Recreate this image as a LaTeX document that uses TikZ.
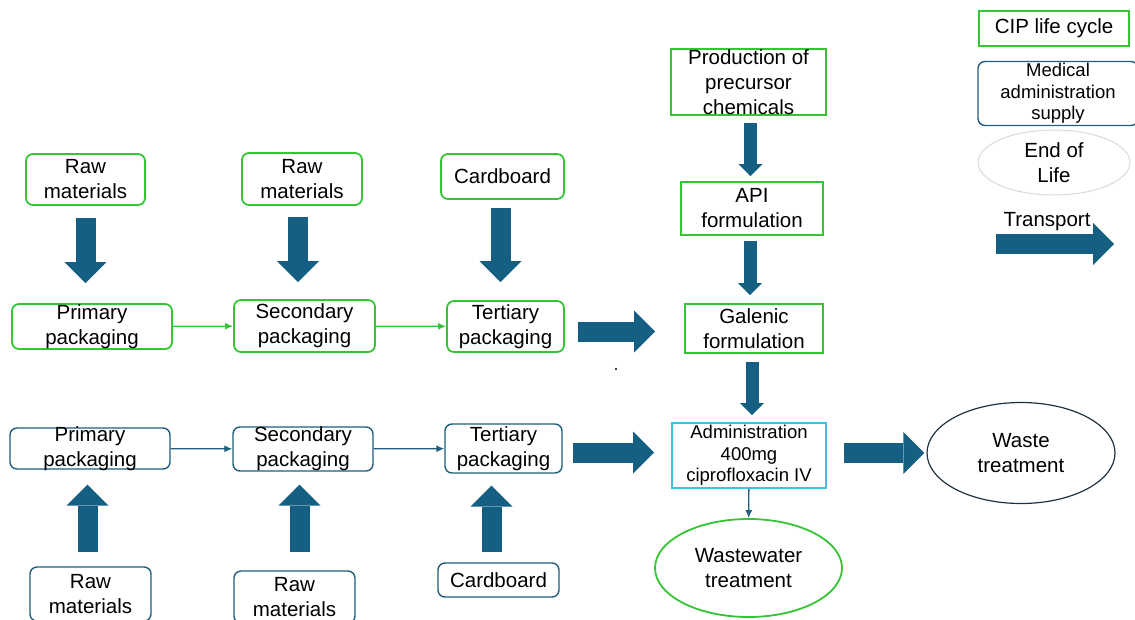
\documentclass[tikz,border=0pt]{standalone}
\usepackage{fontspec}
\setmainfont{Liberation Sans}
\usetikzlibrary{arrows.meta,positioning,shapes.geometric}
\definecolor{cipgreen}{RGB}{52,196,52}
\definecolor{supplyblue}{RGB}{31,94,124}
\definecolor{flowblue}{RGB}{21,96,130}
\definecolor{admincyan}{RGB}{64,192,232}
\definecolor{eolgray}{RGB}{217,217,217}
\definecolor{wasteline}{RGB}{30,50,64}

\begin{document}
\begin{tikzpicture}[x=1pt, y=-1pt, every node/.style={font=\fontsize{20.5}{25}\selectfont, align=center, inner xsep=2pt, inner ysep=-2pt}]
\tikzset{cipbox/.style={draw=cipgreen, line width=1.8pt, rounded corners=7pt}}
\tikzset{ciprect/.style={draw=cipgreen, line width=1.8pt}}
\tikzset{supplybox/.style={draw=supplyblue, line width=1.4pt, rounded corners=7pt}}
\tikzset{flow/.style={draw=flowblue, line width=20pt, -{Triangle[length=21pt, width=42pt, line width=0pt]}}}
\tikzset{flowmid/.style={draw=flowblue, line width=13pt, -{Triangle[length=12pt, width=24pt, line width=0pt]}}}
\tikzset{link/.style={line width=1.3pt, -{Latex[length=8pt, width=7pt]}}}
\tikzset{smalltext/.style={font=\fontsize{18.5}{21.5}\selectfont}}
\useasboundingbox (0,0) rectangle (1135,619);
% CIP life cycle row
\node[cipbox, minimum width=119pt, minimum height=51pt] (raw1) at (85.5,179.5) {Raw\\materials};
\node[cipbox, minimum width=120pt, minimum height=52pt] (raw2) at (302,179) {Raw\\materials};
\node[cipbox, minimum width=123pt, minimum height=45pt] (card1) at (502.5,176.5) {Cardboard};
\node[cipbox, minimum width=160pt, minimum height=45pt] (prim1) at (92,326.5) {Primary\\packaging};
\node[cipbox, minimum width=141pt, minimum height=52pt] (sec1) at (304.5,326) {Secondary\\packaging};
\node[cipbox, minimum width=117pt, minimum height=51pt] (ter1) at (505.5,326.5) {Tertiary\\packaging};
% active ingredient
\node[ciprect, minimum width=155pt, minimum height=66pt, inner ysep=-1pt] (prod) at (748.5,82) {Production of\\precursor\\chemicals};
\node[ciprect, minimum width=142pt, minimum height=53pt] (api) at (752,208.5) {API\\formulation};
\node[ciprect, minimum width=138pt, minimum height=49pt] (gal) at (754,328.5) {Galenic\\formulation};
\node[draw=admincyan, line width=1.8pt, smalltext, minimum width=154pt, minimum height=65pt] (admin) at (749,455.5) {Administration\\400mg\\ciprofloxacin IV};
\node[ellipse, draw=cipgreen, line width=1.8pt, minimum width=187pt, minimum height=98pt] (wwater) at (748.5,568) {Wastewater\\treatment};
\node[ellipse, draw=wasteline, line width=1.2pt, minimum width=188pt, minimum height=101pt] (waste) at (1021,453) {Waste\\treatment};
% medical administration supply row
\node[supplybox, minimum width=160pt, minimum height=41pt] (prim2) at (90,448.5) {Primary\\packaging};
\node[supplybox, minimum width=140pt, minimum height=44pt] (sec2) at (303,449) {Secondary\\packaging};
\node[supplybox, minimum width=117pt, minimum height=49pt] (ter2) at (503.5,448.5) {Tertiary\\packaging};
\node[supplybox, minimum width=121pt, minimum height=54pt] (raw3) at (90.5,594) {Raw\\materials};
\node[supplybox, minimum width=121pt, minimum height=52pt] (raw4) at (294.5,597) {Raw\\materials};
\node[supplybox, minimum width=121pt, minimum height=34pt] (card2) at (498.5,580) {Cardboard};
% legend
\node[ciprect, minimum width=150pt, minimum height=35pt] (legcip) at (1054,28.5) {CIP life cycle};
\node[supplybox, smalltext, minimum width=160pt, minimum height=64pt] (legsupply) at (1058,93.5) {Medical\\administration\\supply};
\node[ellipse, draw=eolgray, line width=1pt, minimum width=152pt, minimum height=65pt] (legeol) at (1054,162.5) {End of\\Life};
\node (legtransport) at (1047,222) {Transport};
\coordinate (tr0) at (996,244);
\coordinate (tr1) at (1114,244);
% transport arrows
\draw[flow, shorten <=12pt, shorten >=20pt] (raw1.south) -- (raw1.south |- prim1.north);
\draw[flow, shorten <=11pt, shorten >=17pt] ([xshift=-4pt]raw2.south) -- ([xshift=-4pt]raw2.south |- sec1.north);
\draw[flow, shorten <=8pt, shorten >=18pt] ([xshift=-2pt]card1.south) -- ([xshift=-2pt]card1.south |- ter1.north);
\draw[flow, shorten <=13pt, shorten >=29pt] ([yshift=-5pt]ter1.east) -- ([yshift=-5pt]ter1.east -| gal.west);
\draw[flow, shorten <=14pt, shorten >=15pt] ([xshift=-3pt]raw3.north) -- ([xshift=-3pt]raw3.north |- prim2.south);
\draw[flow, shorten <=18pt, shorten >=13pt] ([xshift=5pt]raw4.north) -- ([xshift=5pt]raw4.north |- sec2.south);
\draw[flow, shorten <=10pt, shorten >=12pt] ([xshift=-7pt]card2.north) -- ([xshift=-7pt]card2.north |- ter2.south);
\draw[flow, shorten <=10pt, shorten >=17pt] ([yshift=-4pt]ter2.east) -- ([yshift=-4pt]ter2.east -| admin.west);
\draw[flow, shorten <=17pt, shorten >=2pt] (admin.east |- waste.west) -- (waste.west);
\draw[flowmid, shorten <=7pt, shorten >=5pt] ([xshift=2pt]prod.south) -- ([xshift=2pt]prod.south |- api.north);
\draw[flowmid, shorten <=5pt, shorten >=8pt] ([xshift=-2pt]api.south) -- ([xshift=-2pt]api.south |- gal.north);
\draw[flowmid, shorten <=8pt, shorten >=7pt] ([xshift=-2pt]gal.south) -- ([xshift=-2pt]gal.south |- admin.north);
\draw[flow] (tr0) -- (tr1);
% thin links
\draw[link, cipgreen] (prim1) -- (sec1);
\draw[link, cipgreen] (sec1) -- (ter1);
\draw[link, supplyblue] (prim2) -- (sec2);
\draw[link, supplyblue] (sec2) -- (ter2);
\draw[link, supplyblue] (admin) -- (wwater);
\fill (616,369) circle (1.1pt);
\end{tikzpicture}
\end{document}
